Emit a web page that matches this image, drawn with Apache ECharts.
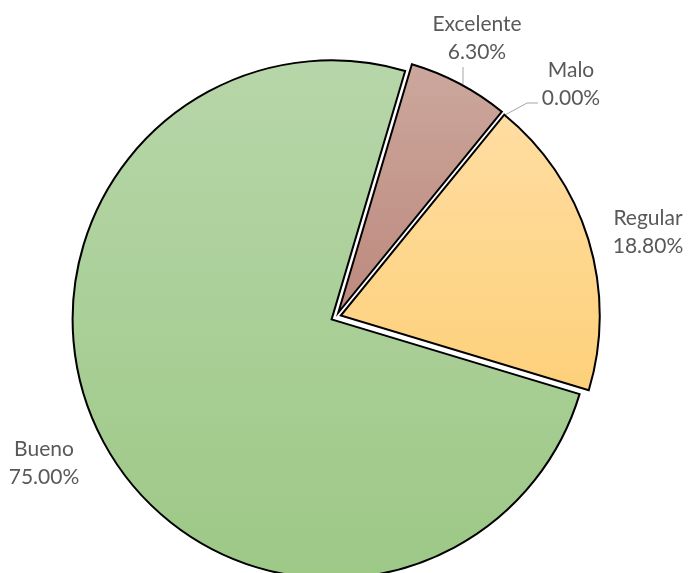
<!DOCTYPE html>
<html>
<head>
<meta charset="utf-8">
<script src="https://cdn.jsdelivr.net/npm/echarts@6/dist/echarts.min.js"></script>
<style>
  html, body { margin: 0; padding: 0; background: #ffffff; }
  #chart { width: 689px; height: 573px; }
</style>
</head>
<body>
<div id="chart"></div>
<script>
// Survey rating shares (percent)
const categories = ['Excelente', 'Malo', 'Regular', 'Bueno'];
const shares = [6.3, 0, 18.8, 75];

// Slice fills: vertical gradient, light top to base tone at bottom
const fills = [
  ['#cca79d', '#bd897d'],
  ['#a6a6a6', '#a6a6a6'],
  ['#ffdda2', '#fdd07a'],
  ['#b7d6a9', '#9dc886']
];

// Where each label block is centred, and the leader drawn to it
const labelSpots = {
  Excelente: { x: 477, y: 38, line: [[463, 84], [463, 67]] },
  Malo: { x: 571, y: 84, line: [[505, 115], [527, 103], [538, 103]] },
  Regular: { x: 648, y: 232 },
  Bueno: { x: 44, y: 463 }
};

const chart = echarts.init(document.getElementById('chart'), null, { renderer: 'canvas' });

const data = categories.map((name, i) => ({
  name,
  value: shares[i],
  selected: true,
  itemStyle: {
    color: {
      type: 'linear', x: 0, y: 0, x2: 0, y2: 1,
      colorStops: [
        { offset: 0, color: fills[i][0] },
        { offset: 1, color: fills[i][1] }
      ]
    },
    borderWidth: shares[i] === 0 ? 0 : 2
  }
}));

// Category name + value text blocks, with their leader lines
const labelGraphics = [];
categories.forEach((name, i) => {
  const spot = labelSpots[name];
  labelGraphics.push({
    type: 'text',
    x: spot.x,
    y: spot.y,
    silent: true,
    style: {
      text: name + '\n' + shares[i].toFixed(2) + '%',
      fill: '#595959',
      font: '21px Lato',
      lineHeight: 28,
      align: 'center',
      verticalAlign: 'middle'
    }
  });
  if (spot.line) {
    labelGraphics.push({
      type: 'polyline',
      silent: true,
      shape: { points: spot.line },
      style: { stroke: '#a6a6a6', lineWidth: 1, fill: null }
    });
  }
});

chart.setOption({
  animation: false,
  backgroundColor: '#ffffff',
  graphic: labelGraphics,
  series: [{
    type: 'pie',
    center: [336, 317],
    radius: [0, 259],
    startAngle: 73.5,
    clockwise: true,
    selectedMode: 'multiple',
    selectedOffset: 5,
    stillShowZeroSum: true,
    itemStyle: {
      borderColor: '#000000',
      borderWidth: 2,
      borderJoin: 'miter'
    },
    select: {
      itemStyle: { borderColor: '#000000' }
    },
    emphasis: { disabled: true },
    label: { show: false },
    labelLine: { show: false },
    data
  }]
});
</script>
</body>
</html>
